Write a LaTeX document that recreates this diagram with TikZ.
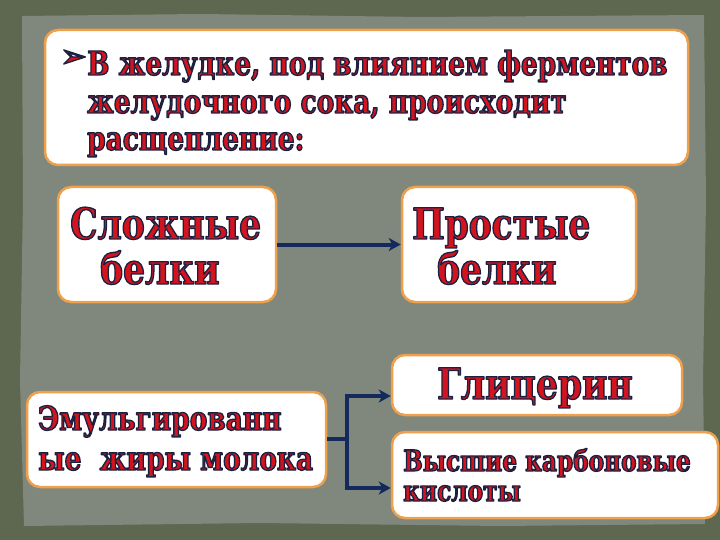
\documentclass[tikz,border=0pt]{standalone}
\usepackage{fontspec}
\setmainfont{DejaVu Serif}[FakeStretch=0.8]
\newfontfamily\symf{DejaVu Sans}
\usetikzlibrary{arrows.meta}
\definecolor{outerbg}{HTML}{5E6851}
\definecolor{innerbg}{HTML}{80877C}
\definecolor{boxline}{HTML}{F0A04B}
\definecolor{txtred}{HTML}{D2141E}
\definecolor{arrowc}{HTML}{142A5C}
\newcommand\shw[1]{{\color{txtred}\special{pdf:literal direct 0.11 0.125 0.25 RG 1.3 w 1 j 2 Tr}#1\special{pdf:literal direct 0 Tr 0.4 w 0 j}}}
\tikzset{
  box/.style={draw=boxline, line width=2.5pt, fill=white, rounded corners=13pt, inner sep=0pt},
  lbl/.style={inner sep=0pt, anchor=base west, font=\bfseries},
  conn/.style={draw=arrowc, line width=4pt},
  tip/.style={-{Stealth[length=12pt,width=13pt,inset=3.5pt]}}
}
\begin{document}
\begin{tikzpicture}[x=1pt,y=1pt]
\useasboundingbox (0,0) rectangle (720,-540);
\fill[outerbg] (0,0) rectangle (720,-540);
\fill[innerbg] (22,-16) -- (200,-14) -- (420,-17) -- (704,-15) -- (706,-200) -- (703,-380) -- (705,-524)
  -- (500,-526) -- (260,-523) -- (24,-526) -- (20,-380) -- (23,-200) -- cycle;
% boxes
\node[box, minimum width=643pt, minimum height=135pt] (top) at (366.5,-97.5) {};
\node[box, minimum width=218pt, minimum height=115pt] (s) at (167,-244.5) {};
\node[box, minimum width=234pt, minimum height=115pt] (p) at (519,-244.5) {};
\node[box, minimum width=299pt, minimum height=95pt] (e) at (176.5,-439.5) {};
\node[box, minimum width=290pt, minimum height=60pt] (g) at (537,-385) {};
\node[box, minimum width=326pt, minimum height=86pt] (v) at (555,-475) {};
% top text
\node[lbl, font=\fontsize{32}{32}\selectfont] (bul) at (60,-67) {\shw{\symf ➢}};
\node[lbl, font=\fontsize{33}{33}\bfseries\selectfont] (t1) at (87,-75) {\shw{В желудке, под влиянием ферментов}};
\node[lbl, font=\fontsize{33}{33}\bfseries\selectfont] (t2) at (87,-113) {\shw{желудочного сока, происходит}};
\node[lbl, font=\fontsize{33}{33}\bfseries\selectfont] (t3) at (87,-150) {\shw{расщепление:}};
% box texts
\node[lbl, font=\fontsize{43}{43}\bfseries\selectfont] (s1) at (70,-239) {\shw{Сложные}};
\node[lbl, font=\fontsize{43}{43}\bfseries\selectfont] (s2) at (100,-284) {\shw{белки}};
\node[lbl, font=\fontsize{43}{43}\bfseries\selectfont] (p1) at (412,-239) {\shw{Простые}};
\node[lbl, font=\fontsize{43}{43}\bfseries\selectfont] (p2) at (437,-284) {\shw{белки}};
\node[lbl, font=\fontsize{33}{33}\bfseries\selectfont] (e1) at (38,-430) {\shw{Эмульгированн}};
\node[lbl, font=\fontsize{33}{33}\bfseries\selectfont] (e2) at (38,-470) {\shw{ые\ \ жиры молока}};
\node[lbl, font=\fontsize{43}{43}\bfseries\selectfont] (g1) at (437,-399) {\shw{Глицерин}};
\node[lbl, font=\fontsize{29}{29}\bfseries\selectfont] (v1) at (403,-471) {\shw{Высшие карбоновые}};
\node[lbl, font=\fontsize{29}{29}\bfseries\selectfont] (v2) at (403,-501) {\shw{кислоты}};
% connectors
\draw[conn, tip] (s.east) -- (p.west);
\coordinate (j) at (347,-439);
\coordinate (jt) at (347,-396);
\coordinate (jb) at (347,-488);
\draw[conn] (e.east |- j) -- (j);
\draw[conn, tip] (jb) -- (jt) -- (g.west |- jt);
\draw[conn, tip] (jt) -- (jb) -- (v.west |- jb);
\end{tikzpicture}
\end{document}
